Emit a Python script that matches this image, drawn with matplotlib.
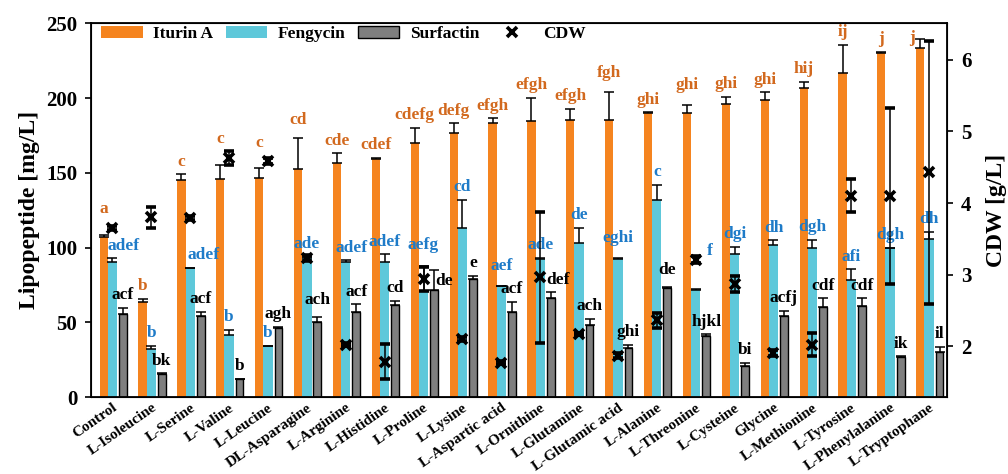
#!/usr/bin/env python3

import numpy as np
import matplotlib
matplotlib.use('Agg')
import matplotlib.pyplot as plt
from matplotlib.lines import Line2D

plt.rcParams['font.family'] = ['Liberation Serif', 'DejaVu Serif']
plt.rcParams['font.weight'] = 'bold'
plt.rcParams['axes.labelweight'] = 'bold'

amino = ['Control', 'L-Isoleucine', 'L-Serine', 'L-Valine', 'L-Leucine', 'DL-Asparagine',
         'L-Arginine', 'L-Histidine', 'L-Proline', 'L-Lysine', 'L-Aspartic acid',
         'L-Ornithine', 'L-Glutamine', 'L-Glutamic acid', 'L-Alanine', 'L-Threonine',
         'L-Cysteine', 'Glycine', 'L-Methionine', 'L-Tyrosine', 'L-Phenylalanine',
         'L-Tryptophane']

iturin = [107, 63.5, 145.5, 146, 146.5, 152.5, 156.5, 159.5, 170, 176.5, 183,
          184.5, 185.5, 185.5, 190, 190, 196, 198.5, 206.5, 217, 230, 233.5]
iturin_err = [1.5, 2, 3.5, 9, 6.7, 20.5, 6.5, 0.7, 10, 6.5, 3.5,
              15.5, 7.5, 18.5, 0.5, 5.5, 5, 5.3, 4.5, 18.5, 0.7, 6]

fengycin = [90, 32, 86, 41.5, 34, 93, 90.5, 90, 71, 113, 74,
            92.5, 103, 92.5, 132, 71.5, 95.5, 101.5, 99.5, 78, 99.5, 106]
fengycin_err = [2.7, 2, 0.3, 3.5, 0.4, 1, 1, 5.5, 16.5, 19, 0.5,
                0.5, 10, 0.7, 10, 0.5, 5, 3.3, 5.5, 7.5, 0.5, 4.5]

surfactin = [55.5, 15.5, 54.5, 12, 46.5, 50, 57, 61.5, 71.5, 79, 57,
             66, 48, 33, 73, 40.5, 21, 54, 60, 61, 27, 30]
surfactin_err = [4, 0.3, 2.5, 0.3, 0.5, 3.3, 5, 3, 13.5, 2, 6.5,
                 4, 4.5, 2, 0.5, 1.5, 1.7, 3.5, 6, 5, 0.3, 3.5]

cdw = [3.65, 3.80, 3.79, 4.63, 4.59, 3.23, 2.02, 1.78, 2.94, 2.10, 1.77,
       2.96, 2.17, 1.87, 2.36, 3.21, 2.87, 1.91, 2.02, 4.10, 4.10, 4.43]
cdw_err = [0.03, 0.15, 0.03, 0.1, 0.04, 0.04, 0.02, 0.245, 0.17, 0.03, 0.02,
           0.91, 0.02, 0.04, 0.1, 0.05, 0.115, 0.04, 0.16, 0.23, 1.23, 1.84]

itu_let = ['a', 'b', 'c', 'c', 'c', 'cd', 'cde', 'cdef', 'cdefg', 'defg', 'efgh',
           'efgh', 'efgh', 'fgh', 'ghi', 'ghi', 'ghi', 'ghi', 'hij', 'ij', 'j', 'j']
fen_let = ['adef', 'b', 'adef', 'b', 'b', 'ade', 'adef', 'adef', 'aefg', 'cd', 'aef',
           'ade', 'de', 'eghi', 'c', 'f', 'dgi', 'dh', 'dgh', 'afi', 'dgh', 'dh']
sur_let = ['acf', 'bk', 'acf', 'b', 'agh', 'ach', 'acf', 'cd', 'de', 'e', 'acf',
           'def', 'ach', 'ghi', 'de', 'hjkl', 'bi', 'acfj', 'cdf', 'cdf', 'ik', 'il']

# hand placed letters in the original (dx in groups, dy in mg/L)
nudge = {
    ('itu', 0): (0, 8.5), ('itu', 3): (0, 9), ('itu', 4): (0, 8), ('itu', 5): (0, 4),
    ('itu', 13): (0, 4.5), ('itu', 15): (0, 5), ('itu', 21): (-0.2, -7.5),
    ('fen', 0): (0.28, 0), ('fen', 2): (0.35, 0), ('fen', 6): (0.15, 0),
    ('fen', 8): (0, 6), ('fen', 10): (0, 4.5), ('fen', 13): (0, 5), ('fen', 15): (0.36, 17),
    ('sur', 8): (0.25, -16), ('sur', 11): (0.2, 0), ('sur', 5): (0, 3), ('sur', 14): (0, 3),
}

c_itu = '#F5841F'
c_fen = '#5EC8DA'
c_sur = '#7F7F7F'
t_itu = '#D2691E'
t_fen = '#1E7BC8'

x = np.arange(len(amino))
zeros = np.zeros(len(amino))
ekw = dict(ecolor='black', elinewidth=1.1, capthick=1.1)

fig = plt.figure(figsize=(10.08, 4.74), dpi=100)
ax = fig.add_axes([0.0903, 0.1624, 0.8495, 0.7884])

series = [
    ('itu', -0.225, 0.21, iturin, iturin_err, c_itu, 'none', itu_let, t_itu, 'Iturin A'),
    ('fen', 0.0, 0.24, fengycin, fengycin_err, c_fen, 'none', fen_let, t_fen, 'Fengycin'),
    ('sur', 0.27, 0.2, surfactin, surfactin_err, c_sur, 'black', sur_let, 'black', 'Surfactin'),
]
handles = []
for key, off, w, vals, err, col, edge, lets, tcol, name in series:
    b = ax.bar(x + off, vals, w, color=col, edgecolor=edge, linewidth=1,
               yerr=[zeros, err], capsize=3.6, error_kw=ekw, label=name)
    handles.append(b)
    for i, (v, e, s) in enumerate(zip(vals, err, lets)):
        dx, dy = nudge.get((key, i), (0, 0))
        ax.text(x[i] + off + dx, v + e + 8.5 + dy, s, color=tcol, fontsize=12.5,
                ha='center', va='center', fontweight='bold')

ax.set_xlim(-0.55, 21.47)
ax.set_ylim(0, 250)
ax.set_yticks([0, 50, 100, 150, 200, 250])
ax.set_xticks(x, amino, rotation=35, ha='right', rotation_mode='anchor', fontsize=11)
ax.tick_params(axis='x', length=0, pad=3)
ax.tick_params(axis='y', labelsize=15, length=4, width=1.2, pad=6)
ax.set_ylabel('Lipopeptide [mg/L]', fontsize=17, labelpad=4)
for sp in ax.spines.values():
    sp.set_linewidth(1.3)

ax2 = ax.twinx()
ax2.errorbar(x, cdw, yerr=cdw_err, fmt='x', color='black', markersize=7, mew=2.6,
             capsize=3.6, elinewidth=1.1, capthick=1.1)
ax2.set_ylim(1.29, 6.51)
ax2.set_yticks([2, 3, 4, 5, 6])
ax2.tick_params(axis='y', labelsize=15, length=4, width=1.2, pad=6)
ax2.set_ylabel('CDW [g/L]', fontsize=17, labelpad=10)

handles.append(Line2D([], [], ls='none', marker='x', color='black', markersize=7, mew=2.6))
ax2.legend(handles, ['Iturin A', 'Fengycin', 'Surfactin', 'CDW'], loc='upper left',
           bbox_to_anchor=(0.004, 1.012), ncol=4, frameon=False, fontsize=12.5,
           handlelength=2.4, handletextpad=0.6, columnspacing=0.7, borderaxespad=0)

plt.savefig('out.png', dpi=100)
